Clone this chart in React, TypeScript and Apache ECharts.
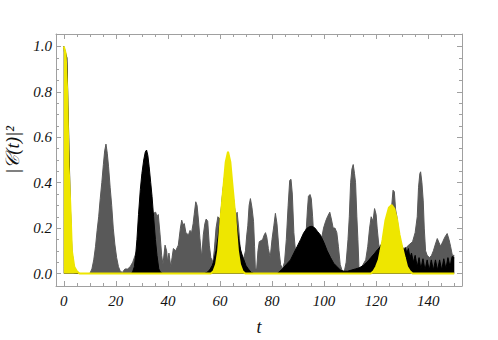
import React, { useEffect, useRef } from "react";
import * as echarts from "echarts";

// |C(t)|^2 curves: [t, value]
const grayCurve: [number, number][] = [
  [0, 1], [1, 0.9], [2, 0.3], [3, 0.02], [4, 0], [10, 0], [10.8, 0.02], [11.5, 0.06], [12.2, 0.12], [12.8, 0.19],
  [13.4, 0.25], [14, 0.33], [14.6, 0.4], [15.2, 0.48], [15.7, 0.54], [16.2, 0.57], [16.7, 0.53], [17.2, 0.47],
  [17.8, 0.38], [18.4, 0.3], [19, 0.2], [19.6, 0.13], [20.3, 0.07], [21, 0.03], [21.7, 0.01], [22.5, 0.005],
  [23.5, 0.02], [24.5, 0.02], [25.5, 0.03], [26.5, 0.05], [28, 0.1], [30, 0.15], [32, 0.2], [33.5, 0.25],
  [34.4, 0.265], [35.3, 0.27], [35.8, 0.25], [36.3, 0.26], [37, 0.17], [37.6, 0.08], [38.1, 0.04], [38.9, 0.125],
  [39.5, 0.1], [39.9, 0.05], [40.4, 0.09], [41.1, 0.03], [41.6, 0.07], [42.1, 0.11], [43, 0.1], [44, 0.125],
  [44.8, 0.2], [45.3, 0.235], [45.8, 0.215], [46.3, 0.22], [46.9, 0.18], [47.9, 0.17], [48.5, 0.19], [49.1, 0.18],
  [49.7, 0.22], [50.1, 0.26], [50.7, 0.316], [51.2, 0.3], [51.7, 0.24], [52.3, 0.155], [53, 0.07], [53.6, 0.17],
  [54.2, 0.22], [54.7, 0.24], [55.3, 0.23], [55.9, 0.125], [56.5, 0.07], [57.3, 0.05], [57.8, 0.1], [58.5, 0.2],
  [59.2, 0.25], [60, 0.24], [60.7, 0.25], [62, 0.22], [64, 0.2], [66, 0.25], [66.6, 0.27], [67.2, 0.2],
  [67.7, 0.12], [68.3, 0.08], [69, 0.06], [69.8, 0.1], [70.3, 0.17], [70.7, 0.21], [71.2, 0.3], [71.7, 0.33],
  [72.3, 0.29], [72.9, 0.23], [73.3, 0.12], [73.6, 0.02], [74.1, 0.02], [74.6, 0.1], [75.1, 0.14], [75.8, 0.145],
  [76.4, 0.15], [77, 0.17], [77.5, 0.18], [78, 0.16], [78.6, 0.11], [79.3, 0.07], [80, 0.15], [80.7, 0.21],
  [81.3, 0.265], [81.9, 0.22], [82.7, 0.1], [83.3, 0.04], [84, 0.02], [84.8, 0.05], [85.5, 0.15], [86.2, 0.3],
  [86.8, 0.41], [87.3, 0.415], [87.8, 0.35], [88.4, 0.18], [89, 0.1], [90, 0.08], [91, 0.1], [92, 0.15],
  [93.2, 0.2], [93.6, 0.28], [94, 0.34], [94.6, 0.348], [95.1, 0.33], [95.6, 0.25], [96.1, 0.15], [97, 0.1],
  [98, 0.1], [99, 0.15], [99.8, 0.2], [100.6, 0.23], [101.3, 0.25], [102.2, 0.27], [102.8, 0.24], [103.5, 0.2],
  [104.2, 0.2], [104.9, 0.18], [105.5, 0.12], [106.2, 0.04], [107, 0.01], [107.8, 0.01], [108.5, 0.05],
  [109.2, 0.15], [109.7, 0.25], [110.2, 0.4], [110.7, 0.46], [111.2, 0.48], [111.7, 0.44], [112.1, 0.4],
  [112.6, 0.25], [113, 0.15], [113.4, 0.03], [114, 0.02], [115, 0.04], [116, 0.06], [116.8, 0.12], [117.5, 0.2],
  [118.1, 0.25], [118.8, 0.23], [119.4, 0.286], [120, 0.26], [120.4, 0.2], [121, 0.13], [121.6, 0.1], [123, 0.15],
  [125, 0.25], [126, 0.3], [126.5, 0.367], [127, 0.36], [127.5, 0.28], [128, 0.25], [129, 0.15], [130, 0.12],
  [131, 0.1], [132, 0.12], [133, 0.13], [134, 0.14], [135, 0.18], [135.8, 0.25], [136.3, 0.38], [136.8, 0.44],
  [137.1, 0.448], [137.6, 0.4], [138.1, 0.32], [138.5, 0.2], [139, 0.1], [139.6, 0.08], [140.5, 0.07],
  [141.3, 0.08], [142, 0.1], [142.8, 0.13], [143.5, 0.154], [144.2, 0.135], [144.8, 0.12], [145.6, 0.14],
  [146.4, 0.16], [147.3, 0.176], [148, 0.15], [148.6, 0.12], [149.3, 0.08], [150, 0.08],
];

const blackCurve: [number, number][] = [
  [0, 1], [1.2, 0.95], [1.9, 0.6], [2.5, 0.3], [3.1, 0.1], [4, 0.02], [5, 0], [26, 0], [26.5, 0.01], [27.1, 0.03],
  [27.6, 0.08], [28.1, 0.15], [28.7, 0.26], [29.4, 0.37], [30, 0.44], [30.7, 0.5], [31.3, 0.535], [31.8, 0.544],
  [32.3, 0.52], [32.8, 0.47], [33.4, 0.4], [33.9, 0.34], [34.5, 0.25], [35.2, 0.15], [35.8, 0.08], [36.5, 0.02],
  [37.2, 0.005], [38, 0], [54, 0], [55, 0.005], [56, 0.015], [57, 0.035], [57.5, 0.05], [58.5, 0.1], [59.4, 0.17],
  [60.3, 0.26], [61, 0.35], [62, 0.45], [63, 0.5], [64, 0.45], [65, 0.35], [66, 0.25], [67.1, 0.155], [68, 0.1],
  [69, 0.066], [70, 0.035], [70.9, 0.02], [72, 0.005], [73, 0], [82, 0], [83, 0.01], [84, 0.02], [85.5, 0.04],
  [87.1, 0.06], [88.4, 0.09], [89.7, 0.12], [91, 0.15], [92.2, 0.18], [93.5, 0.2], [94.5, 0.207], [95.4, 0.208],
  [96.5, 0.2], [97.5, 0.185], [98.6, 0.17], [100, 0.135], [101.2, 0.1], [102.5, 0.07], [103.7, 0.045], [105, 0.03],
  [106.3, 0.015], [107.6, 0.01], [109, 0.01], [110.5, 0.015], [112, 0.02], [113.5, 0.025], [115, 0.035],
  [116.5, 0.05], [118, 0.07], [119.5, 0.09], [120.5, 0.105], [121.5, 0.117], [122.5, 0.14], [124, 0.16],
  [126, 0.17], [128, 0.15], [129, 0.13], [129.9, 0.12], [130.6, 0.1], [131.2, 0.115], [131.8, 0.09], [132.4, 0.11],
  [133, 0.07], [133.6, 0.09], [134.3, 0.05], [135, 0.08], [135.8, 0.03], [136.5, 0.07], [137.2, 0.02], [138, 0.065],
  [138.8, 0.015], [139.6, 0.06], [140.4, 0.015], [141.2, 0.06], [142, 0.015], [142.8, 0.06], [143.6, 0.015],
  [144.4, 0.06], [145.2, 0.015], [146, 0.065], [146.8, 0.02], [147.6, 0.07], [148.4, 0.03], [149.2, 0.075],
  [150, 0.07],
];

const yellowCurve: [number, number][] = [
  [0, 1], [0.7, 0.97], [1.3, 0.8], [1.85, 0.47], [2.5, 0.3], [3.1, 0.1], [4, 0.03], [5, 0.01], [6, 0],
  [56.5, 0], [57.5, 0.01], [58.5, 0.04], [59.3, 0.1], [59.8, 0.17], [60.3, 0.25], [61, 0.34], [61.5, 0.4],
  [62.2, 0.49], [63.1, 0.537], [64, 0.49], [64.7, 0.4], [65.2, 0.34], [65.9, 0.25], [66.4, 0.17], [66.9, 0.1],
  [67.7, 0.04], [68.7, 0.01], [69.7, 0], [118, 0], [119, 0.01], [120, 0.03], [121, 0.06], [121.7, 0.1],
  [122.5, 0.15], [123.6, 0.235], [124.9, 0.29], [126, 0.302], [127, 0.285], [128.1, 0.235], [129, 0.17],
  [130, 0.117], [131, 0.07], [131.9, 0.03], [133, 0.01], [134, 0], [150, 0],
];

const xMajorTicks = [0, 20, 40, 60, 80, 100, 120, 140];
const xMinorTicks = [5, 10, 15, 25, 30, 35, 45, 50, 55, 65, 70, 75, 85, 90, 95, 105, 110, 115, 125, 130, 135, 145, 150];
const yMajorTicks = [0, 0.2, 0.4, 0.6, 0.8, 1.0];
const yMinorTicks = [0.05, 0.1, 0.15, 0.25, 0.3, 0.35, 0.45, 0.5, 0.55, 0.65, 0.7, 0.75, 0.85, 0.9, 0.95];

const X_MIN = -3;
const X_MAX = 153;
const Y_MIN = -0.055;
const Y_MAX = 1.055;

const FRAME = "#a0a0a0";
const FONT = "Liberation Serif";

export default function App() {
  const ref = useRef<HTMLDivElement>(null);
  useEffect(() => {
    if (!ref.current) return;
    const chart = echarts.init(ref.current, undefined, { renderer: "svg" });

    const xAxisBase = (pos: "bottom" | "top", ticks: number[], len: number, labels: boolean, line: boolean, name?: string) => ({
      type: "value",
      position: pos,
      min: X_MIN,
      max: X_MAX,
      name: name,
      nameLocation: "middle",
      nameGap: 32,
      nameTextStyle: { fontFamily: FONT, fontStyle: "italic", fontSize: 18, color: "#111" },
      axisLine: { show: line, onZero: false, lineStyle: { color: FRAME, width: 1 } },
      axisTick: { show: true, inside: true, length: len, customValues: ticks, lineStyle: { color: FRAME } },
      axisLabel: labels
        ? { show: true, customValues: ticks, margin: 7, fontFamily: FONT, fontStyle: "italic", fontSize: 15, color: "#111", formatter: (v: number) => String(Math.round(v)) }
        : { show: false },
      splitLine: { show: false },
    });
    const yAxisBase = (pos: "left" | "right", ticks: number[], len: number, labels: boolean, line: boolean, name?: string) => ({
      type: "value",
      position: pos,
      min: Y_MIN,
      max: Y_MAX,
      name: name,
      nameLocation: "middle",
      nameRotate: 90,
      nameGap: 33,
      nameTextStyle: { fontFamily: FONT, fontStyle: "italic", fontSize: 19, color: "#111", padding: [0, 0, 0, 20] },
      axisLine: { show: line, onZero: false, lineStyle: { color: FRAME, width: 1 } },
      axisTick: { show: true, inside: true, length: len, customValues: ticks, lineStyle: { color: FRAME } },
      axisLabel: labels
        ? { show: true, customValues: ticks, margin: 4, fontFamily: FONT, fontStyle: "italic", fontSize: 15, color: "#111", formatter: (v: number) => v.toFixed(1) }
        : { show: false },
      splitLine: { show: false },
    });

    const mk = (name: string, data: [number, number][], color: string, lw: number, z: number) => ({
      name,
      type: "line",
      xAxisIndex: 0,
      yAxisIndex: 0,
      data,
      showSymbol: false,
      symbol: "none",
      smooth: false,
      lineStyle: { color, width: lw },
      areaStyle: { color, opacity: 1, origin: 0 },
      itemStyle: { color },
      z,
    });

    chart.setOption({
      animation: false,
      grid: { left: 56, right: 36, top: 34, bottom: 54, containLabel: false, outerBoundsMode: "none" },
      xAxis: [
        xAxisBase("bottom", xMajorTicks, 5, true, true, "t"),
        xAxisBase("bottom", xMinorTicks, 3, false, false),
        xAxisBase("top", xMajorTicks, 5, false, true),
        xAxisBase("top", xMinorTicks, 3, false, false),
      ],
      yAxis: [
        yAxisBase("left", yMajorTicks, 5, true, true, "|𝒞(t)|²"),
        yAxisBase("left", yMinorTicks, 3, false, false),
        yAxisBase("right", yMajorTicks, 5, false, true),
        yAxisBase("right", yMinorTicks, 3, false, false),
      ],
      series: [
        mk("gray", grayCurve, "#595959", 1, 2),
        mk("black", blackCurve, "#000000", 1, 3),
        mk("yellow", yellowCurve, "#EEE600", 2, 4),
      ],
    });
    return () => chart.dispose();
  }, []);
  return (
    <div
      ref={ref}
      style={{ position: "absolute", left: 0, top: 0, width: 498, height: 340 }}
    />
  );
}
